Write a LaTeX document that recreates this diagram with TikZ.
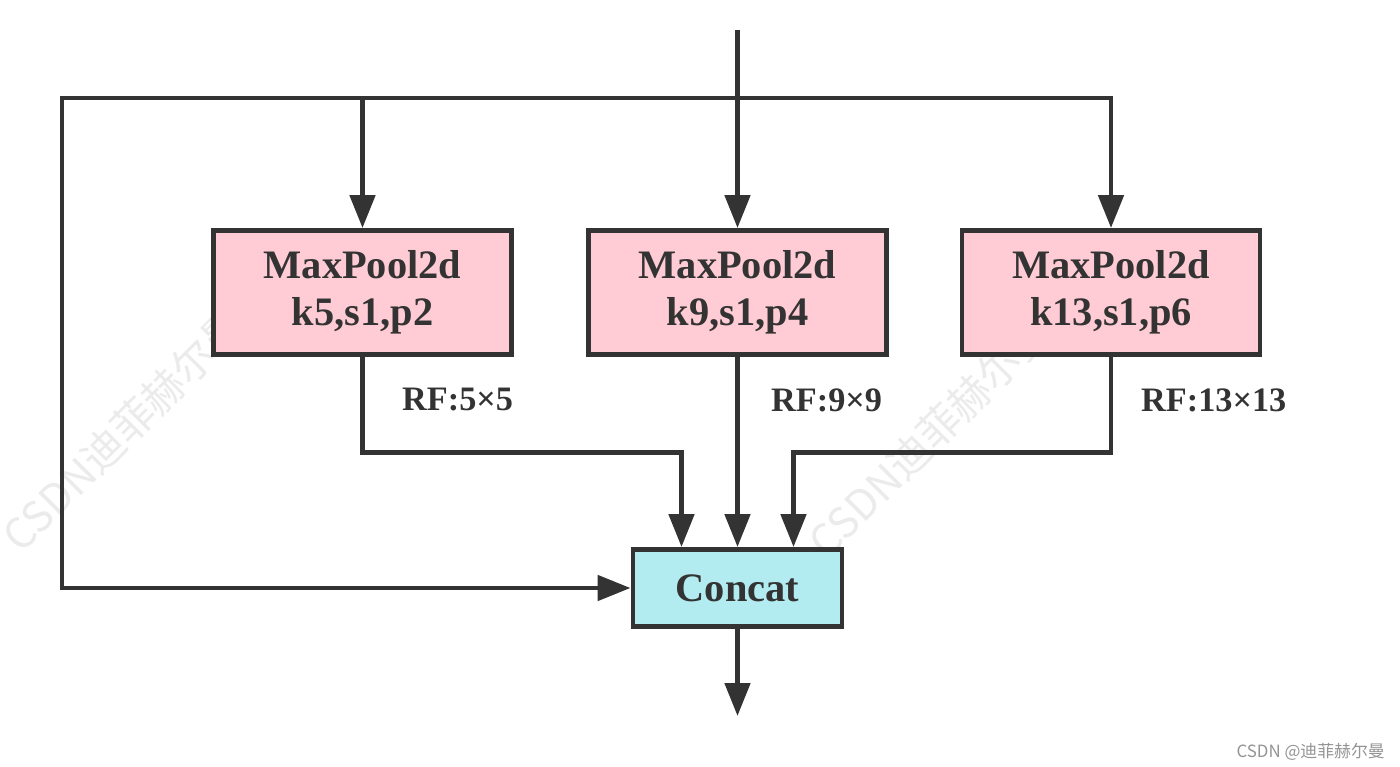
\documentclass[tikz,border=0pt]{standalone}
\usepackage{fontspec}
\setmainfont{Liberation Serif}
\newfontfamily\cjk{Noto Sans CJK SC}
\usetikzlibrary{arrows.meta}
\definecolor{linegray}{HTML}{333333}
\definecolor{poolpink}{HTML}{FFCCD5}
\definecolor{catcyan}{HTML}{B2EBF0}
\tikzset{
  wire/.style={line width=2.8pt, draw=linegray},
  flow/.style={wire, -{Triangle[length=0.66cm,width=0.5cm]}},
  pool/.style={draw=linegray, line width=2.8pt, fill=poolpink, text=linegray,
    minimum width=5.96cm, minimum height=2.48cm, align=center,
    font=\fontsize{23}{26.5}\selectfont\bfseries},
  catbox/.style={pool, fill=catcyan, minimum width=4.18cm, minimum height=1.54cm},
  rf/.style={anchor=west, text=linegray, font=\fontsize{19.5}{22}\selectfont\bfseries},
  wmark/.style={rotate=45, text=black!8, font=\cjk\fontsize{24}{26}\selectfont}
}
\begin{document}
\begin{tikzpicture}[x=0.02cm,y=-0.02cm]
\useasboundingbox (0,0) rectangle (1400,767);

\node[wmark] (wm1) at (124,430) {CSDN迪菲赫尔曼};
\node[wmark] (wm2) at (930,436) {CSDN迪菲赫尔曼};

\node[pool] (pool1) at (362.5,292.5) {MaxPool2d\\k5,s1,p2};
\node[pool] (pool2) at (737.5,292.5) {MaxPool2d\\k9,s1,p4};
\node[pool] (pool3) at (1111,292.5) {MaxPool2d\\k13,s1,p6};
\node[catbox] (cat) at (737.5,588) {Concat};

\coordinate (in) at (737.5,30);
\coordinate (split) at (737.5,98);
\coordinate (skip) at (62,98);
\coordinate (out) at (737.5,716);

\draw[flow] (in) -- (pool2.north);
\draw[flow] (split) -| (pool1.north);
\draw[flow] (split) -| (pool3.north);
\draw[flow] (split) -- (skip) |- (cat.west);

\draw[flow] (pool1.south) -- ++(0,96) -| ([xshift=-1.12cm]cat.north);
\draw[flow] (pool2.south) -- (cat.north);
\draw[flow] (pool3.south) -- ++(0,96) -| ([xshift=1.12cm]cat.north);
\draw[flow] (cat.south) -- (out);

\node[rf] (rf1) at (396,400) {RF:5×5};
\node[rf] (rf2) at (765,400) {RF:9×9};
\node[rf] (rf3) at (1135,400) {RF:13×13};

\node[anchor=east, text=black!42, font=\cjk\fontsize{9.6}{11}\selectfont] (credit) at (1391,752) {CSDN @迪菲赫尔曼};
\end{tikzpicture}
\end{document}
